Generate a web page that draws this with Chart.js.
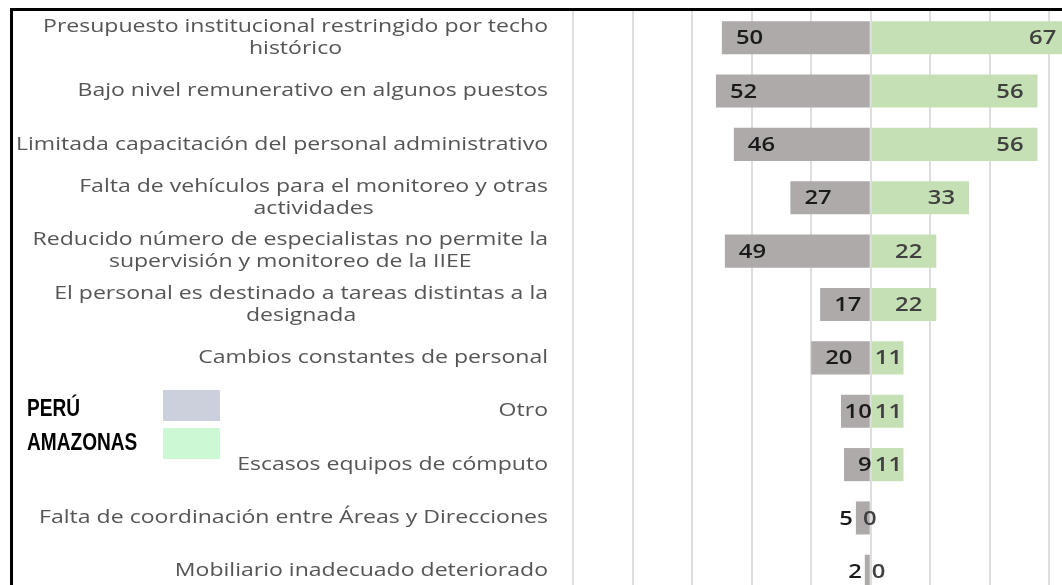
<!DOCTYPE html>
<html>
<head>
<meta charset="utf-8">
<script src="https://cdn.jsdelivr.net/npm/chart.js@4.4.1/dist/chart.umd.min.js"></script>
<style>
	html, body { margin: 0; padding: 0; background: #fff; overflow: hidden; width: 1062px; height: 585px; }
	#frame { position: absolute; left: 10px; top: 8px; width: 1200px; height: 700px; border-left: 3px solid #000; border-top: 3px solid #000; }
	#wrap { position: absolute; left: 0; top: 0; width: 1130px; height: 600px; }
	.leg { position: absolute; font-family: "Liberation Sans", sans-serif; font-weight: bold; font-size: 23px; color: #000; line-height: 1; transform: scaleX(0.83); transform-origin: left top; }
	.sw { position: absolute; left: 163px; width: 57px; height: 31px; }
</style>
</head>
<body>
<div id="frame"></div>
<div id="wrap"><canvas id="myChart"></canvas></div>
<div class="leg" style="left:27px; top:397px;">PERÚ</div>
<div class="leg" style="left:27px; top:431px;">AMAZONAS</div>
<div class="sw" style="top:390px; background:#cbd0dc;"></div>
<div class="sw" style="top:428px; background:#ccf8d4;"></div>
<script>
const categories = [
	['Presupuesto institucional restringido por techo', 'histórico'],
	['Bajo nivel remunerativo en algunos puestos'],
	['Limitada capacitación del personal administrativo'],
	['Falta de vehículos para el monitoreo y otras', 'actividades'],
	['Reducido número de especialistas no permite la', 'supervisión y monitoreo de la IIEE'],
	['El personal es destinado a tareas distintas a la', 'designada'],
	['Cambios constantes de personal'],
	['Otro'],
	['Escasos equipos de cómputo'],
	['Falta de coordinación entre Áreas y Direcciones'],
	['Mobiliario inadecuado deteriorado']
];
const peru = [50, 52, 46, 27, 49, 17, 20, 10, 9, 5, 2];
const amazonas = [67, 56, 56, 33, 22, 22, 11, 11, 11, 0, 0];

// el texto del original viene estirado a lo ancho
function wideText(ctx, txt, x, y, align, sx) {
	ctx.save();
	ctx.translate(x, y);
	ctx.scale(sx, 1);
	ctx.textAlign = align;
	ctx.fillText(txt, 0, 0);
	ctx.restore();
}

// etiquetas de categoria centradas por bloque
const catLabels = {
	id: 'catLabels',
	afterDraw(chart) {
		const ctx = chart.ctx;
		const y = chart.scales.y;
		const right = chart.chartArea.left - 25;
		const sx = 1.28;
		ctx.save();
		ctx.font = '18px "Open Sans"';
		ctx.fillStyle = '#555555';
		ctx.textBaseline = 'middle';
		categories.forEach(function(lines, i) {
			const cy = y.getPixelForValue(i);
			let maxW = 0;
			lines.forEach(function(l) { maxW = Math.max(maxW, ctx.measureText(l).width * sx); });
			const cx = right - maxW / 2;
			lines.forEach(function(l, j) {
				wideText(ctx, l, cx, cy + (j - (lines.length - 1) / 2) * 22, 'center', sx);
			});
		});
		ctx.restore();
	}
};

// valores dentro de las barras
const valueLabels = {
	id: 'valueLabels',
	afterDatasetsDraw(chart) {
		const ctx = chart.ctx;
		const sx = 1.22;
		ctx.save();
		ctx.font = '600 19.5px "Open Sans"';
		ctx.textBaseline = 'middle';
		chart.getDatasetMeta(0).data.forEach(function(el, i) {
			const txt = String(peru[i]);
			const w = ctx.measureText(txt).width * sx;
			const barW = el.base - el.x;
			ctx.fillStyle = '#1a1a1a';
			if (barW >= 20) {
				wideText(ctx, txt, Math.min(el.x + 14, el.base + 2 - w), el.y + 1, 'left', sx);
			} else {
				wideText(ctx, txt, el.x - 3, el.y + 1, 'right', sx);
			}
		});
		chart.getDatasetMeta(1).data.forEach(function(el, i) {
			const txt = String(amazonas[i]);
			const w = ctx.measureText(txt).width * sx;
			ctx.fillStyle = '#404040';
			if (amazonas[i] == 0) {
				wideText(ctx, txt, el.base + 7, el.y + 1, 'left', sx);
			} else {
				wideText(ctx, txt, Math.max(el.x - 14, el.base + 3 + w), el.y + 1, 'right', sx);
			}
		});
		ctx.restore();
	}
};

const ctx = document.getElementById('myChart').getContext('2d');
const myChart = new Chart(ctx, {
	type: 'bar',
	data: {
		labels: categories,
		datasets: [{
			label: 'PERÚ',
			data: peru.map(function(v) { return -v; }),
			backgroundColor: '#aeaaaa',
			categoryPercentage: 1,
			barPercentage: 0.62
		}, {
			label: 'AMAZONAS',
			data: amazonas,
			backgroundColor: '#c5e0b4',
			categoryPercentage: 1,
			barPercentage: 0.62
		}]
	},
	options: {
		indexAxis: 'y',
		responsive: true,
		maintainAspectRatio: false,
		animation: false,
		layout: {
			padding: { top: 11, bottom: 2, left: 0, right: 21 }
		},
		plugins: {
			legend: { display: false },
			tooltip: { enabled: false }
		},
		scales: {
			x: {
				stacked: true,
				min: -100,
				max: 80,
				ticks: { display: false, stepSize: 20 },
				border: { display: false },
				grid: { color: '#dedede', lineWidth: 2, drawTicks: false },
				afterFit: function(axis) { axis.height = 0; }
			},
			y: {
				stacked: true,
				ticks: { display: false },
				border: { display: false },
				grid: { display: false, drawTicks: false },
				afterFit: function(axis) { axis.width = 573; }
			}
		}
	},
	plugins: [catLabels, valueLabels]
});
</script>
</body>
</html>
